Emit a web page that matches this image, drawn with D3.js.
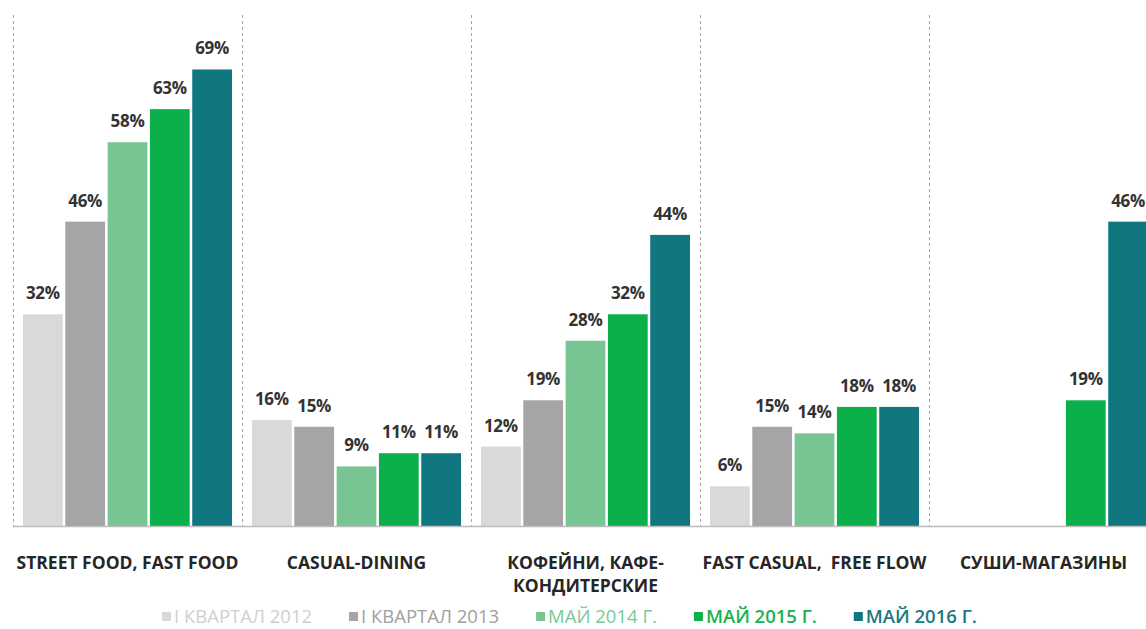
<!DOCTYPE html>
<html>
<head>
<meta charset="utf-8">
<script src="https://cdn.jsdelivr.net/npm/d3@7"></script>
<style>
  html, body { margin: 0; padding: 0; background: #fff; }
  svg { display: block; }
  text { font-family: "Open Sans", "DejaVu Sans", sans-serif; white-space: pre; }
</style>
</head>
<body>
<svg id="chart" width="1146" height="629"></svg>
<script>
// Restaurant formats and their share, by survey period
const categories = [
  ["STREET FOOD, FAST FOOD"],
  ["CASUAL-DINING"],
  ["КОФЕЙНИ, КАФЕ-", "КОНДИТЕРСКИЕ"],
  ["FAST CASUAL,  FREE FLOW"],
  ["СУШИ-МАГАЗИНЫ"]
];
const seriesNames = ["I КВАРТАЛ 2012", "I КВАРТАЛ 2013", "МАЙ 2014 Г.", "МАЙ 2015 Г.", "МАЙ 2016 Г."];
const seriesColors = ["#d9d9d9", "#a5a5a5", "#77c593", "#0bb04b", "#10767f"];
const legendTextColors = ["#cfcfcf", "#a0a0a0", "#7ac896", "#17b150", "#1b7881"];

// values[category] per series; null = no data for that period
const q1_2012 = [32, 16, 12, 6, null];
const q1_2013 = [46, 15, 19, 15, null];
const may2014 = [58, 9, 28, 14, null];
const may2015 = [63, 11, 32, 18, 19];
const may2016 = [69, 11, 44, 18, 46];
const seriesValues = [q1_2012, q1_2013, may2014, may2015, may2016];

const svg = d3.select("#chart");
const left = 13, groupW = 229, baseY = 526;

const x0 = d3.scaleBand()
  .domain(d3.range(categories.length))
  .range([left, left + groupW * categories.length])
  .padding(0);

const x1 = d3.scaleBand()
  .domain(d3.range(seriesNames.length))
  .range([10, groupW - 10])
  .paddingInner(0.06);

const y = d3.scaleLinear().domain([0, 79.5]).range([baseY, 0]);

// dashed separators between groups
svg.append("g").selectAll("line")
  .data(d3.range(categories.length))
  .join("line")
  .attr("x1", i => Math.round(x0(i)) + 0.5)
  .attr("x2", i => Math.round(x0(i)) + 0.5)
  .attr("y1", 15)
  .attr("y2", baseY)
  .attr("stroke", "#a3a3a3")
  .attr("stroke-width", 1)
  .attr("stroke-dasharray", "3,3");

// bars and value labels
const cells = [];
categories.forEach((c, ci) => {
  seriesValues.forEach((vals, si) => {
    if (vals[ci] != null) cells.push({ ci, si, v: vals[ci] });
  });
});

const gBars = svg.append("g");
gBars.selectAll("rect")
  .data(cells)
  .join("rect")
  .attr("x", d => x0(d.ci) + x1(d.si))
  .attr("width", x1.bandwidth())
  .attr("y", d => y(d.v))
  .attr("height", d => baseY - y(d.v))
  .attr("fill", d => seriesColors[d.si]);

gBars.selectAll("text")
  .data(cells)
  .join("text")
  .attr("x", d => x0(d.ci) + x1(d.si) + x1.bandwidth() / 2)
  .attr("y", d => y(d.v) - 15)
  .attr("text-anchor", "middle")
  .attr("font-size", 17)
  .attr("font-weight", 700)
  .attr("letter-spacing", -0.3)
  .attr("fill", "#333")
  .text(d => d.v + "%");

// baseline
svg.append("line")
  .attr("x1", left).attr("x2", 1146)
  .attr("y1", baseY + 0.5).attr("y2", baseY + 0.5)
  .attr("stroke", "#bdbdbd").attr("stroke-width", 1.5);

// category labels
const gCat = svg.append("g");
categories.forEach((lines, ci) => {
  const cx = x0(ci) + x0.bandwidth() / 2;
  const t = gCat.append("text")
    .attr("x", cx)
    .attr("y", 569)
    .attr("text-anchor", "middle")
    .attr("font-size", 17.5)
    .attr("font-weight", 700)
    .attr("fill", "#262626");
  lines.forEach((s, li) => {
    t.append("tspan")
      .attr("x", cx)
      .attr("dy", li === 0 ? 0 : 23)
      .text(s);
  });
});

// legend
const gLeg = svg.append("g");
let lx = 162;
seriesNames.forEach((name, si) => {
  gLeg.append("rect")
    .attr("x", lx).attr("y", 612)
    .attr("width", 9).attr("height", 9)
    .attr("fill", seriesColors[si]);
  const t = gLeg.append("text")
    .attr("x", lx + 12).attr("y", 623)
    .attr("font-size", 18.5)
    .attr("font-weight", si >= 3 ? 600 : 400)
    .attr("fill", legendTextColors[si])
    .text(name);
  lx += 12 + t.node().getComputedTextLength() + 37;
});
</script>
</body>
</html>
